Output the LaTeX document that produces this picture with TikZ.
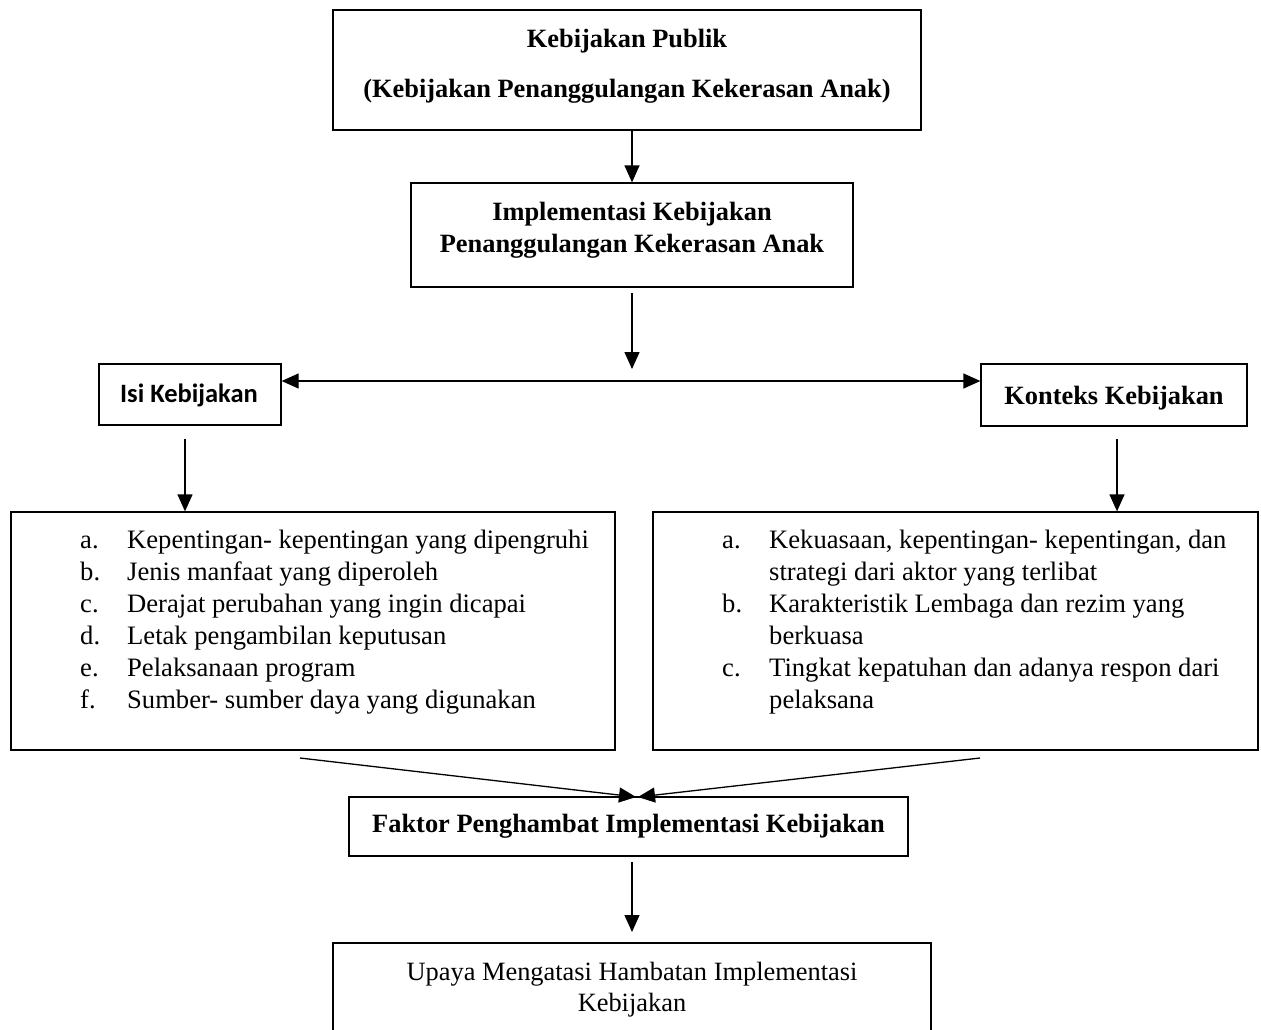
\documentclass[tikz,border=0pt]{standalone}
\usepackage{fontspec}
\setmainfont{Liberation Serif}
\newfontfamily\calibfont{Carlito}
\usetikzlibrary{arrows.meta}
\begin{document}
\begin{tikzpicture}[x=1pt,y=-1pt,
  box/.style={draw, line width=1.3pt, inner sep=0pt},
  arr/.style={line width=1.3pt, -{Triangle[length=17pt,width=15pt]}},
  darr/.style={line width=1.3pt, {Triangle[length=17pt,width=15pt]}-{Triangle[length=17pt,width=15pt]}},
  txt/.style={font=\fontsize{26.4}{32}\selectfont, inner sep=0pt, anchor=base},
  btxt/.style={font=\bfseries\fontsize{26.4}{32}\selectfont, inner sep=0pt, anchor=base},
  ltxt/.style={font=\fontsize{26.6}{32}\selectfont, inner sep=0pt, anchor=base west},
]
\useasboundingbox (0,0) rectangle (1261,1029);
\clip (0,0) rectangle (1261,1029);

% boxes
\node[box, minimum width=588pt, minimum height=120pt] (b1) at (627,70) {};
\node[box, minimum width=442pt, minimum height=104pt] (b2) at (632,235) {};
\node[box, minimum width=182pt, minimum height=61pt] (isi) at (190,394.5) {};
\node[box, minimum width=266pt, minimum height=62pt] (kon) at (1114,395) {};
\node[box, minimum width=604pt, minimum height=238pt] (lbox) at (313,631) {};
\node[box, minimum width=605pt, minimum height=238pt] (rbox) at (955.5,631) {};
\node[box, minimum width=559pt, minimum height=59pt] (fak) at (628.5,826.5) {};
\node[box, minimum width=598pt, minimum height=114pt] (upa) at (632,1000) {};

% texts
\node[btxt] (t1a) at (627,47) {Kebijakan Publik};
\node[btxt] (t1b) at (627,97) {(Kebijakan Penanggulangan Kekerasan Anak)};
\node[btxt] (t2a) at (632,220) {Implementasi Kebijakan};
\node[btxt] (t2b) at (632,252) {Penanggulangan Kekerasan Anak};
\node[inner sep=0pt, anchor=base, font=\calibfont\bfseries\fontsize{26.5}{30}\selectfont] (tisi) at (189,402) {Isi Kebijakan};
\node[btxt] (tkon) at (1114,404) {Konteks Kebijakan};
\node[btxt] (tfak) at (628.5,832) {Faktor Penghambat Implementasi Kebijakan};
\node[txt] (tupa1) at (632,980) {Upaya Mengatasi Hambatan Implementasi};
\node[txt] (tupa2) at (632,1011) {Kebijakan};

% left list
\node[ltxt] (la) at (80,548) {a.};
\node[ltxt] (lat) at (127,548) {Kepentingan- kepentingan yang dipengruhi};
\node[ltxt] (lb) at (80,580) {b.};
\node[ltxt] (lbt) at (127,580) {Jenis manfaat yang diperoleh};
\node[ltxt] (lc) at (80,612) {c.};
\node[ltxt] (lct) at (127,612) {Derajat perubahan yang ingin dicapai};
\node[ltxt] (ld) at (80,644) {d.};
\node[ltxt] (ldt) at (127,644) {Letak pengambilan keputusan};
\node[ltxt] (le) at (80,676) {e.};
\node[ltxt] (let) at (127,676) {Pelaksanaan program};
\node[ltxt] (lf) at (80,708) {f.};
\node[ltxt] (lft) at (127,708) {Sumber- sumber daya yang digunakan};

% right list
\node[ltxt] (ra) at (722,548) {a.};
\node[ltxt] (rat) at (769,548) {Kekuasaan, kepentingan- kepentingan, dan};
\node[ltxt] (rat2) at (769,580) {strategi dari aktor yang terlibat};
\node[ltxt] (rb) at (722,612) {b.};
\node[ltxt] (rbt) at (769,612) {Karakteristik Lembaga dan rezim yang};
\node[ltxt] (rbt2) at (769,644) {berkuasa};
\node[ltxt] (rc) at (722,676) {c.};
\node[ltxt] (rct) at (769,676) {Tingkat kepatuhan dan adanya respon dari};
\node[ltxt] (rct2) at (769,708) {pelaksana};

% connector endpoints
\coordinate (m1) at (632,293);
\coordinate (m2) at (632,369);
\coordinate (h) at (632,381);
\coordinate (i1) at (185,439);
\coordinate (k1) at (1117,439);
\coordinate (cl) at (300,758);
\coordinate (cr) at (980,758);
\coordinate (cm) at (637,797);
\coordinate (f1) at (632,862);
\coordinate (f2) at (632,932);

% connectors
\draw[arr] (b2.north |- b1.south) -- (b2.north);
\draw[arr] (m1) -- (m2);
\draw[darr] (isi.east |- h) -- (kon.west |- h);
\draw[arr] (i1) -- (lbox.north -| i1);
\draw[arr] (k1) -- (rbox.north -| k1);
\draw[arr] (cl) -- ([xshift=-1pt]cm);
\draw[arr] (cr) -- ([xshift=1pt]cm);
\draw[arr] (f1) -- (f2);
\end{tikzpicture}
\end{document}
